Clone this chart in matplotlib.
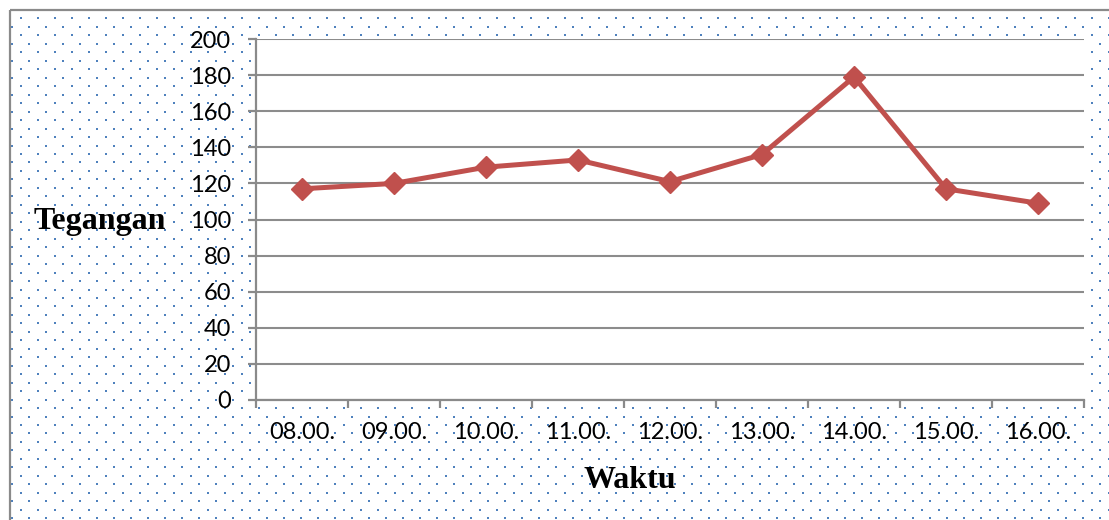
import numpy as np
import matplotlib.pyplot as plt
from matplotlib.patches import Rectangle

# data
waktu = ['08.00.', '09.00.', '10.00.', '11.00.', '12.00.', '13.00.', '14.00.', '15.00.', '16.00.']
tegangan = [117, 120, 129, 133, 121, 136, 179, 117, 109]
y_ticks = [0, 20, 40, 60, 80, 100, 120, 140, 160, 180, 200]

W, H = 1109, 520
fig = plt.figure(figsize=(W / 100, H / 100), dpi=100)
fig.patch.set_facecolor('white')

# dotted background + outer frame, drawn in pixel coordinates
bg = fig.add_axes([0, 0, 1, 1], zorder=-1)
bg.set_xlim(0, W)
bg.set_ylim(H, 0)
bg.axis('off')
xs, ys = [], []
for i, yy in enumerate(np.arange(10, H + 5, 8.47)):
    x0 = 12 if i % 2 == 0 else 20.5
    for xx in np.arange(x0, W + 5, 17):
        xs.append(xx)
        ys.append(yy)
bg.scatter(xs, ys, s=3.5, marker='s', color='#4F81BD', linewidths=0)
bg.add_patch(Rectangle((9.5, 9.5), 1300, 700, fill=False, edgecolor='#8a8a8a', lw=1.6))

ax = fig.add_axes([256 / W, 1 - 400 / H, (1084 - 256) / W, (400 - 39) / H])
ax.set_facecolor('white')
x = np.arange(len(waktu))
ax.plot(x, tegangan, color='#C0504D', lw=3.6, marker='D', markersize=11,
        markeredgecolor='#C0504D', zorder=3)

ax.set_xlim(-0.5, len(waktu) - 0.5)
ax.set_ylim(0, 200)
ax.set_yticks(y_ticks)
ax.set_xticks(x)
ax.set_xticklabels(waktu)
ax.set_xticks(np.arange(-0.5, len(waktu)), minor=True)
ax.grid(axis='y', color='#8c8c8c', lw=1.5)
ax.set_axisbelow(True)

for s in ['top', 'right']:
    ax.spines[s].set_visible(False)
for s in ['left', 'bottom']:
    ax.spines[s].set_color('#8a8a8a')
    ax.spines[s].set_linewidth(1.6)

ax.tick_params(axis='x', which='major', length=0, pad=16, labelsize=17)
ax.tick_params(axis='x', which='minor', length=6, width=1.6, color='#8a8a8a', direction='out')
ax.tick_params(axis='y', length=6, width=1.6, color='#8a8a8a', direction='out', pad=12, labelsize=17)
for lab in ax.get_xticklabels() + ax.get_yticklabels():
    lab.set_fontfamily('Lato')

fig.text(100 / W, 1 - 222 / H, 'Tegangan', family='Liberation Serif', weight='bold',
         fontsize=23, ha='center', va='center')
fig.text(630 / W, 1 - 480 / H, 'Waktu', family='Liberation Serif', weight='bold',
         fontsize=23, ha='center', va='center')

fig.savefig('out.png', dpi=100)
